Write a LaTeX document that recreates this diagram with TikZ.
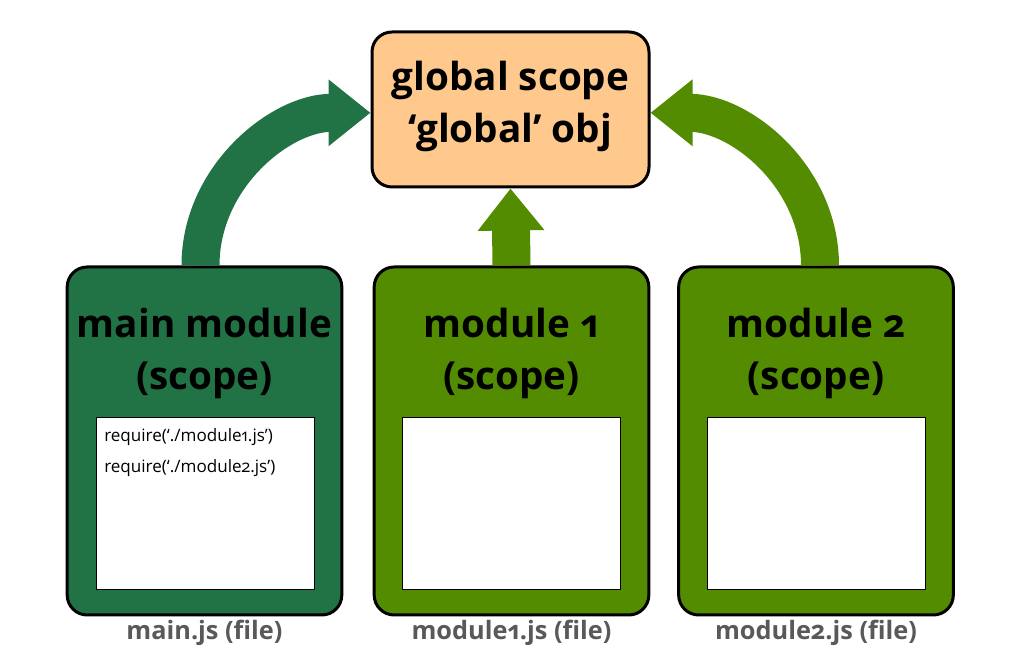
\documentclass[tikz,border=0pt]{standalone}
\usepackage{fontspec}
\setmainfont{Open Sans}[Numbers=OldStyle]
\usetikzlibrary{arrows.meta}
\definecolor{dkgreen}{HTML}{217346}
\definecolor{ltgreen}{HTML}{538C00}
\definecolor{peach}{HTML}{FFC88C}
\definecolor{lblgray}{HTML}{595959}
\begin{document}
\begin{tikzpicture}[x=0.75pt,y=0.75pt,
  modbox/.style={draw=black, line width=2.25pt, rounded corners=15pt,
    minimum width=206pt, minimum height=261pt, inner sep=0pt},
  globbox/.style={draw=black, line width=2.25pt, rounded corners=15pt, fill=peach,
    minimum width=207.75pt, minimum height=116.25pt, inner sep=0pt},
  filebox/.style={draw=black, line width=0.75pt, fill=white,
    minimum width=163pt, minimum height=129pt, inner sep=0pt},
  bigtxt/.style={font=\fontsize{29}{39}\selectfont\bfseries, align=center, inner sep=0pt},
  reqtxt/.style={font=\fontsize{12.8}{15}\selectfont, anchor=west, inner sep=0pt},
  lbltxt/.style={font=\fontsize{19}{22}\selectfont\bfseries, text=lblgray, inner sep=0pt},
  fatarrow/.style={line width=28.5pt, -{Triangle[length=31.5pt,width=48pt]}},
]
\useasboundingbox (0,0) rectangle (1036,659);
% boxes
\node[globbox] (global) at (510.5,549.5) {};
\node[bigtxt] (globt) at (510.5,553) {global scope\\‘global’ obj};
\node[modbox, fill=dkgreen] (main) at (204.5,218) {};
\node[modbox, fill=ltgreen] (m1) at (511.5,218) {};
\node[modbox, fill=ltgreen] (m2) at (816,218) {};
\node[bigtxt] (maint) at (204.5,306) {main module\\(scope)};
\node[bigtxt] (m1t) at (511.5,306) {module 1\\(scope)};
\node[bigtxt] (m2t) at (816,306) {module 2\\(scope)};
\node[filebox] (mainf) at (205.5,155) {};
\node[filebox] (m1f) at (511.5,155) {};
\node[filebox] (m2f) at (816.5,155) {};
\node[reqtxt] (r1) at (104,222) {require(‘./module1.js’)};
\node[reqtxt] (r2) at (104,191) {require(‘./module2.js’)};
\node[lbltxt] (l0) at (204.5,26) {main.js (file)};
\node[lbltxt] (l1) at (511.5,26) {module1.js (file)};
\node[lbltxt] (l2) at (816,26) {module2.js (file)};
% arrows
\draw[fatarrow, dkgreen] ([xshift=-3pt]main.north) to[out=90,in=180] ([yshift=-2.5pt]global.west);
\draw[fatarrow, ltgreen] (m1.north) -- (global.south);
\draw[fatarrow, ltgreen] ([xshift=3pt]m2.north) to[out=90,in=0] ([yshift=-2.5pt]global.east);
\end{tikzpicture}
\end{document}
